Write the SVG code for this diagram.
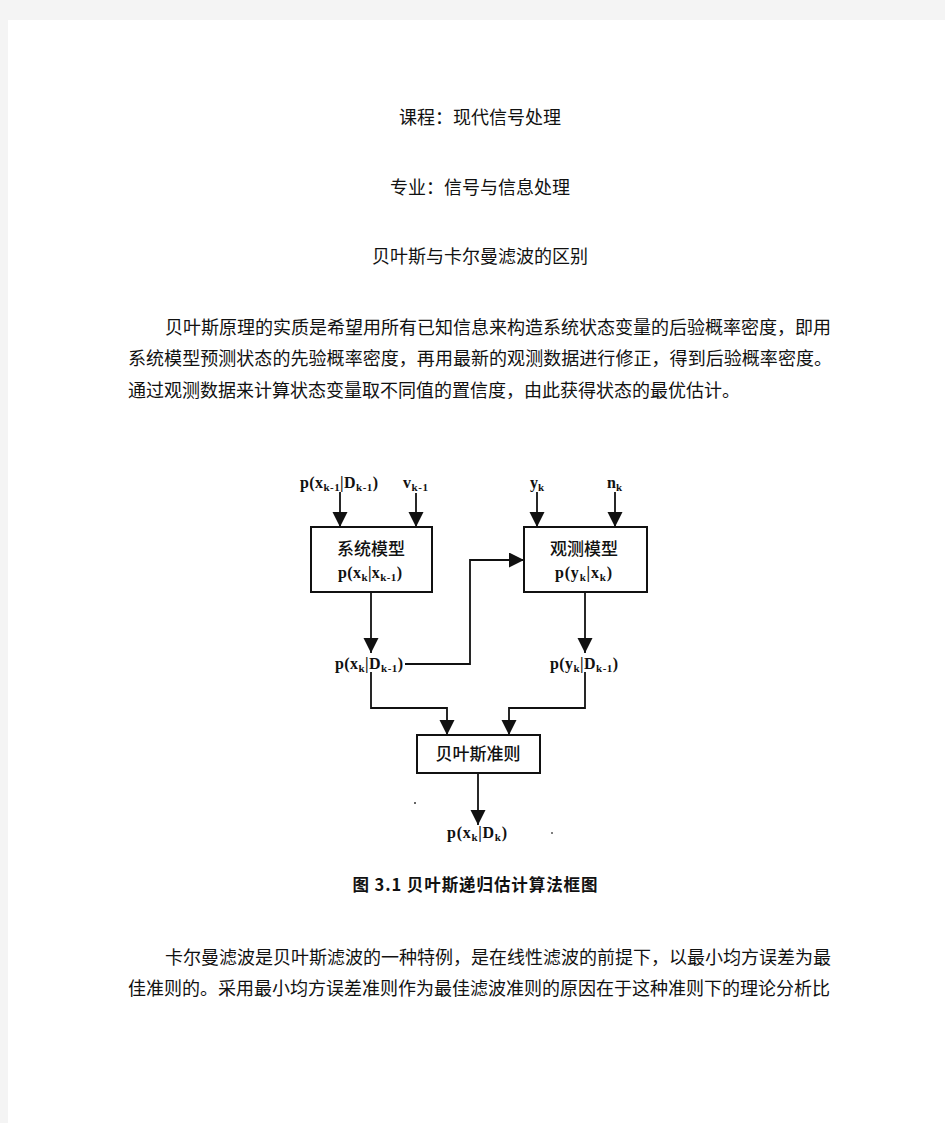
<svg xmlns="http://www.w3.org/2000/svg" width="945" height="1123" viewBox="0 0 945 1123">
  <defs>
    <style>
      .body { font-family: "Noto Sans CJK SC", "Noto Sans", sans-serif; font-size: 18px; fill: #111; }
      .ctr { text-anchor: middle; }
      .box { fill: #fff; stroke: #111; stroke-width: 2; }
      .boxt { font-family: "Noto Sans CJK SC", sans-serif; font-size: 17px; fill: #111; text-anchor: middle; font-weight: 500; }
      .lab { font-family: "Liberation Serif", "Noto Sans CJK SC", serif; font-size: 16px; font-weight: bold; fill: #111; }
      .sub { font-size: 11px; }
      .wire { fill: none; stroke: #111; stroke-width: 1.8; }
      .cap { font-family: "Noto Sans CJK SC", sans-serif; font-size: 16.5px; font-weight: bold; fill: #111; text-anchor: middle; }
    </style>
    <marker id="ah" markerUnits="userSpaceOnUse" markerWidth="16" markerHeight="16" refX="15" refY="7.5" orient="auto">
      <path d="M0,0 L15,7.5 L0,15 Z" fill="#111"/>
    </marker>
  </defs>

  <rect x="0" y="0" width="945" height="1123" fill="#f4f4f4"/>
  <rect x="8" y="20" width="937" height="1103" fill="#fff"/>

  <g id="header">
    <text class="body ctr" x="480" y="124">课程：现代信号处理</text>
    <text class="body ctr" x="480" y="194">专业：信号与信息处理</text>
    <text class="body ctr" x="480" y="263">贝叶斯与卡尔曼滤波的区别</text>
  </g>

  <g id="para1">
    <text class="body" x="165" y="334" textLength="666" lengthAdjust="spacing">贝叶斯原理的实质是希望用所有已知信息来构造系统状态变量的后验概率密度，即用</text>
    <text class="body" x="128" y="365" textLength="704" lengthAdjust="spacing">系统模型预测状态的先验概率密度，再用最新的观测数据进行修正，得到后验概率密度。</text>
    <text class="body" x="128" y="397">通过观测数据来计算状态变量取不同值的置信度，由此获得状态的最优估计。</text>
  </g>

  <g id="connectors">
    <path class="wire" d="M340,492 V527" marker-end="url(#ah)"/>
    <path class="wire" d="M416,493 V527" marker-end="url(#ah)"/>
    <path class="wire" d="M537,492 V527" marker-end="url(#ah)"/>
    <path class="wire" d="M615,492 V527" marker-end="url(#ah)"/>
    <path class="wire" d="M371,592 V653" marker-end="url(#ah)"/>
    <path class="wire" d="M585,592 V653" marker-end="url(#ah)"/>
    <path class="wire" d="M405,664 H470 V560 H524" marker-end="url(#ah)"/>
    <path class="wire" d="M371,672 V708 H447 V735" marker-end="url(#ah)"/>
    <path class="wire" d="M585,672 V708 H509 V735" marker-end="url(#ah)"/>
    <path class="wire" d="M478,773 V825" marker-end="url(#ah)"/>
  </g>

  <g id="in-prior">
    <text class="lab" x="300" y="488" textLength="78" lengthAdjust="spacing">p(x<tspan class="sub" dy="3">k-1</tspan><tspan dy="-3">|D</tspan><tspan class="sub" dy="3">k-1</tspan><tspan dy="-3">)</tspan></text>
  </g>
  <g id="in-v">
    <text class="lab" x="403" y="488" textLength="25" lengthAdjust="spacing">v<tspan class="sub" dy="3">k-1</tspan></text>
  </g>
  <g id="in-y">
    <text class="lab" x="530" y="488">y<tspan class="sub" dy="3">k</tspan></text>
  </g>
  <g id="in-n">
    <text class="lab" x="607" y="488">n<tspan class="sub" dy="3">k</tspan></text>
  </g>

  <g id="system-model">
    <rect class="box" x="311" y="527" width="121" height="65"/>
    <text class="boxt" x="371" y="555">系统模型</text>
    <text class="lab" x="338" y="578" textLength="64" lengthAdjust="spacing">p(x<tspan class="sub" dy="3">k</tspan><tspan dy="-3">|x</tspan><tspan class="sub" dy="3">k-1</tspan><tspan dy="-3">)</tspan></text>
  </g>

  <g id="observation-model">
    <rect class="box" x="524" y="527" width="123" height="65"/>
    <text class="boxt" x="584" y="555">观测模型</text>
    <text class="lab" x="555" y="578" textLength="57" lengthAdjust="spacing">p(y<tspan class="sub" dy="3">k</tspan><tspan dy="-3">|x</tspan><tspan class="sub" dy="3">k</tspan><tspan dy="-3">)</tspan></text>
  </g>

  <g id="pred-x">
    <text class="lab" x="335" y="669" textLength="68" lengthAdjust="spacing">p(x<tspan class="sub" dy="3">k</tspan><tspan dy="-3">|D</tspan><tspan class="sub" dy="3">k-1</tspan><tspan dy="-3">)</tspan></text>
  </g>
  <g id="pred-y">
    <text class="lab" x="550" y="669" textLength="68" lengthAdjust="spacing">p(y<tspan class="sub" dy="3">k</tspan><tspan dy="-3">|D</tspan><tspan class="sub" dy="3">k-1</tspan><tspan dy="-3">)</tspan></text>
  </g>

  <g id="bayes-rule">
    <rect class="box" x="417" y="735" width="123" height="38"/>
    <text class="boxt" x="478" y="760">贝叶斯准则</text>
  </g>

  <g id="posterior">
    <text class="lab" x="447" y="838" textLength="60" lengthAdjust="spacing">p(x<tspan class="sub" dy="3">k</tspan><tspan dy="-3">|D</tspan><tspan class="sub" dy="3">k</tspan><tspan dy="-3">)</tspan></text>
  </g>

  <g id="specks">
    <circle cx="415" cy="803" r="1" fill="#333"/>
    <circle cx="552" cy="833" r="1" fill="#555"/>
  </g>

  <g id="caption">
    <text class="cap" x="475" y="891" textLength="245" lengthAdjust="spacing">图 3.1  贝叶斯递归估计算法框图</text>
  </g>

  <g id="para2">
    <text class="body" x="165" y="964" textLength="666" lengthAdjust="spacing">卡尔曼滤波是贝叶斯滤波的一种特例，是在线性滤波的前提下，以最小均方误差为最</text>
    <text class="body" x="128" y="995" textLength="702" lengthAdjust="spacing">佳准则的。采用最小均方误差准则作为最佳滤波准则的原因在于这种准则下的理论分析比</text>
  </g>
</svg>
